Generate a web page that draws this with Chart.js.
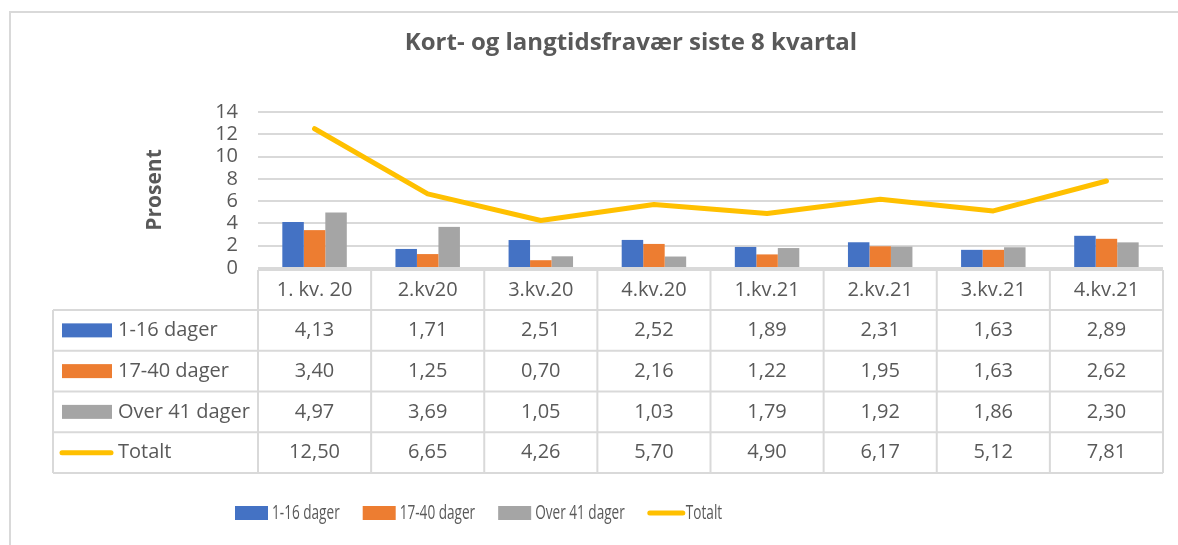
<!DOCTYPE html>
<html>
<head>
<meta charset="utf-8">
<script src="https://cdn.jsdelivr.net/npm/chart.js@4"></script>
<style>
  html, body { margin: 0; padding: 0; background: #fff; }
</style>
</head>
<body>
<canvas id="chart" width="1178" height="545"></canvas>
<script>
const quarters = ['1. kv. 20', '2.kv20', '3.kv.20', '4.kv.20', '1.kv.21', '2.kv.21', '3.kv.21', '4.kv.21'];
const days1to16 = [4.13, 1.71, 2.51, 2.52, 1.89, 2.31, 1.63, 2.89];
const days17to40 = [3.40, 1.25, 0.70, 2.16, 1.22, 1.95, 1.63, 2.62];
const over41 = [4.97, 3.69, 1.05, 1.03, 1.79, 1.92, 1.86, 2.30];
const totals = [12.50, 6.65, 4.26, 5.70, 4.90, 6.17, 5.12, 7.81];
const yMin = 0, yMax = 14, yStep = 2;

const FONT = '"Open Sans", sans-serif';
const TEXT = '#595959';
const LINES = '#d9d9d9';

const fmt = v => v.toFixed(2).replace('.', ',');

// frame, title, data table and legend drawn around the plot
const extrasPlugin = {
    id: 'extras',
    beforeDraw(chart) {
        const ctx = chart.ctx;
        ctx.save();
        ctx.strokeStyle = LINES;
        ctx.lineWidth = 2;
        ctx.beginPath();
        ctx.moveTo(10, 545); ctx.lineTo(10, 12); ctx.lineTo(1178, 12);
        ctx.stroke();
        ctx.fillStyle = TEXT;
        ctx.font = 'bold 24px ' + FONT;
        ctx.textAlign = 'center';
        ctx.textBaseline = 'alphabetic';
        ctx.fillText('Kort- og langtidsfravær siste 8 kvartal', 631, 50);
        ctx.restore();
    },
    afterDraw(chart) {
        const ctx = chart.ctx;
        const x = chart.scales.x;
        const sets = chart.data.datasets;
        const n = chart.data.labels.length;
        const colW = x.getPixelForValue(1) - x.getPixelForValue(0);
        const gridLeft = x.getPixelForValue(0) - colW / 2;
        const gridRight = x.getPixelForValue(n - 1) + colW / 2;
        const top = chart.chartArea.bottom + 2;
        const headH = 40, rowH = 40.75, tableLeft = 53;
        const bottom = top + headH + sets.length * rowH;

        ctx.save();
        ctx.strokeStyle = LINES;
        ctx.lineWidth = 2;
        ctx.beginPath();
        ctx.moveTo(gridLeft, top); ctx.lineTo(gridRight, top);
        for (let r = 0; r <= sets.length; r++) {
            const y = top + headH + r * rowH;
            ctx.moveTo(tableLeft, y); ctx.lineTo(gridRight, y);
        }
        for (let i = 0; i <= n; i++) {
            const xx = gridLeft + i * colW;
            ctx.moveTo(xx, top); ctx.lineTo(xx, bottom);
        }
        ctx.moveTo(tableLeft, top + headH); ctx.lineTo(tableLeft, bottom);
        ctx.stroke();

        ctx.fillStyle = TEXT;
        ctx.font = '20px ' + FONT;
        ctx.textBaseline = 'middle';
        ctx.textAlign = 'center';
        chart.data.labels.forEach((lab, i) => {
            ctx.fillText(lab, x.getPixelForValue(i), top + headH / 2);
        });

        sets.forEach((ds, r) => {
            const yc = top + headH + r * rowH + rowH / 2;
            if (ds.type === 'line') {
                ctx.strokeStyle = ds.borderColor;
                ctx.lineWidth = 5;
                ctx.lineCap = 'round';
                ctx.beginPath();
                ctx.moveTo(62, yc); ctx.lineTo(111, yc);
                ctx.stroke();
            } else {
                ctx.fillStyle = ds.backgroundColor;
                ctx.fillRect(62, yc - 7, 50, 14);
            }
            ctx.fillStyle = TEXT;
            ctx.textAlign = 'left';
            ctx.fillText(ds.label, 118, yc);
            ctx.textAlign = 'center';
            ds.data.forEach((v, i) => ctx.fillText(fmt(v), x.getPixelForValue(i), yc));
        });

        // legend below the table (condensed text as in the original)
        const ly = 513, sx = 0.68;
        let lx = 235;
        sets.forEach(ds => {
            if (ds.type === 'line') {
                ctx.strokeStyle = ds.borderColor;
                ctx.lineWidth = 5;
                ctx.lineCap = 'round';
                ctx.beginPath();
                ctx.moveTo(lx + 2, ly); ctx.lineTo(lx + 35, ly);
                ctx.stroke();
                lx += 38;
            } else {
                ctx.fillStyle = ds.backgroundColor;
                ctx.fillRect(lx, ly - 7, 33, 14);
                lx += 37;
            }
            ctx.fillStyle = TEXT;
            ctx.textAlign = 'left';
            ctx.save();
            ctx.translate(lx, ly);
            ctx.scale(sx, 1);
            ctx.fillText(ds.label, 0, 0);
            ctx.restore();
            lx += ctx.measureText(ds.label).width * sx + 23;
        });
        ctx.restore();
    }
};

new Chart(document.getElementById('chart'), {
    data: {
        labels: quarters,
        datasets: [
            { type: 'bar', label: '1-16 dager', data: days1to16, backgroundColor: '#4472c4', order: 1 },
            { type: 'bar', label: '17-40 dager', data: days17to40, backgroundColor: '#ed7d31', order: 1 },
            { type: 'bar', label: 'Over 41 dager', data: over41, backgroundColor: '#a5a5a5', order: 1 },
            {
                type: 'line', label: 'Totalt', data: totals, borderColor: '#ffc000', backgroundColor: '#ffc000',
                borderWidth: 5, pointRadius: 0, tension: 0, borderCapStyle: 'round', borderJoinStyle: 'round', order: 0
            }
        ]
    },
    options: {
        responsive: false,
        animation: false,
        layout: { padding: { top: 112, right: 15, bottom: 277, left: 0 } },
        datasets: { bar: { barPercentage: 1, categoryPercentage: 0.57, borderWidth: 0 } },
        plugins: { legend: { display: false }, title: { display: false }, tooltip: { enabled: false } },
        scales: {
            x: { display: false, offset: true },
            y: {
                min: yMin, max: yMax,
                afterFit: s => { s.width = 258; },
                border: { display: false },
                grid: { color: LINES, lineWidth: 2, drawTicks: false },
                ticks: {
                    stepSize: yStep, autoSkip: false, padding: 20, color: TEXT,
                    font: { family: FONT, size: 20, lineHeight: 1 }
                },
                title: {
                    display: true, text: 'Prosent', color: TEXT,
                    font: { family: FONT, size: 21, weight: 'bold' },
                    padding: { top: 142, bottom: 0 }
                }
            }
        }
    },
    plugins: [extrasPlugin]
});
</script>
</body>
</html>
